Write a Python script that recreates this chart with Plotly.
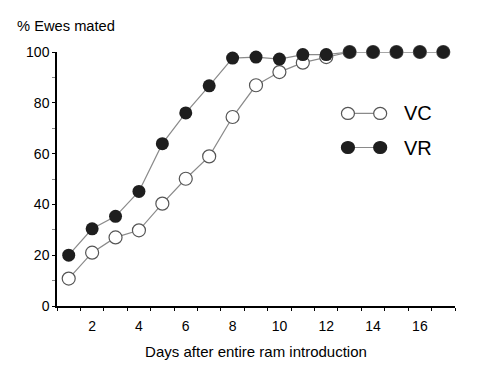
import plotly.graph_objects as go

days = list(range(1, 18))
vc = [10.8, 21, 27, 29.8, 40.3, 50.1, 58.9, 74.4, 86.9, 92.1, 95.8, 98, 100, 100, 100, 100, 100]
vr = [20, 30.4, 35.3, 45.1, 63.9, 76, 86.7, 97.6, 98, 97.2, 99, 99, 100, 100, 100, 100, 100]
x_tick_vals = [2, 4, 6, 8, 10, 12, 14, 16]
y_tick_vals = [0, 20, 40, 60, 80, 100]
series_names = ["VC", "VR"]

FONT = "Liberation Sans, Arial, Helvetica, sans-serif"
LINE_COL = "#8a8a8a"
DARK = "#1e1e1e"

fig = go.Figure()
fig.add_trace(go.Scatter(
    x=days, y=vc, mode="lines+markers", name=series_names[0],
    line=dict(color=LINE_COL, width=1.2),
    marker=dict(size=13, color="white", line=dict(color="#555555", width=1.2)),
    cliponaxis=False, showlegend=False))
fig.add_trace(go.Scatter(
    x=days, y=vr, mode="lines+markers", name=series_names[1],
    line=dict(color=LINE_COL, width=1.2),
    marker=dict(size=13, color=DARK, line=dict(color=DARK, width=0)),
    cliponaxis=False, showlegend=False))

# custom legend (two markers joined by a line)
legend_rows = [(0.758, "white", "#555555"), (0.624, DARK, DARK)]
for (yy, fill, edge), name in zip(legend_rows, series_names):
    fig.add_shape(type="line", xref="paper", yref="paper",
                  x0=0.731, x1=0.812, y0=yy, y1=yy,
                  line=dict(color=LINE_COL, width=1.2), layer="above")
    for xx in (0.731, 0.812):
        fig.add_shape(type="circle", xref="paper", yref="paper",
                      xsizemode="pixel", ysizemode="pixel",
                      xanchor=xx, yanchor=yy, x0=-6.5, x1=6.5, y0=-6, y1=6,
                      fillcolor=fill, line=dict(color=edge, width=1.2), layer="above")
    fig.add_annotation(x=0.866, y=yy, xref="paper", yref="paper", text=name,
                       showarrow=False, xanchor="left", yanchor="middle",
                       font=dict(size=20, color="black", family=FONT))

fig.add_annotation(x=-0.105, y=1.0 + (52 - 26) / 253.8, xref="paper", yref="paper",
                   text="% Ewes mated", showarrow=False, xanchor="left", yanchor="middle",
                   font=dict(size=14.7, color="black", family=FONT))

fig.update_layout(
    width=482, height=388,
    margin=dict(l=57, r=27, t=52, b=82),
    paper_bgcolor="white", plot_bgcolor="white",
    font=dict(family=FONT, size=14, color="black"),
    xaxis=dict(range=[0.5, 17.5], tickvals=x_tick_vals, ticks="",
               showgrid=False, zeroline=False, showline=True,
               linecolor="black", linewidth=1.5,
               minor=dict(ticks="outside", tick0=0.5, dtick=1, ticklen=3,
                          tickcolor="black", tickwidth=1, showgrid=False),
               tickfont=dict(size=14), ticklabelstandoff=6,
               title=dict(text="Days after entire ram introduction",
                          font=dict(size=15), standoff=14)),
    yaxis=dict(range=[0, 100], tickvals=y_tick_vals, ticks="outside",
               ticklen=3, tickcolor="black", tickwidth=1,
               showgrid=False, zeroline=False, showline=True,
               linecolor="black", linewidth=1.5,
               minor=dict(ticks="outside", tick0=0, dtick=10, ticklen=3,
                          tickcolor="#888888", tickwidth=1, showgrid=False),
               tickfont=dict(size=14)),
)

fig.write_html("out.html", config={"displayModeBar": False},
               post_script="document.body.style.margin='0';document.body.style.overflow='hidden';")
